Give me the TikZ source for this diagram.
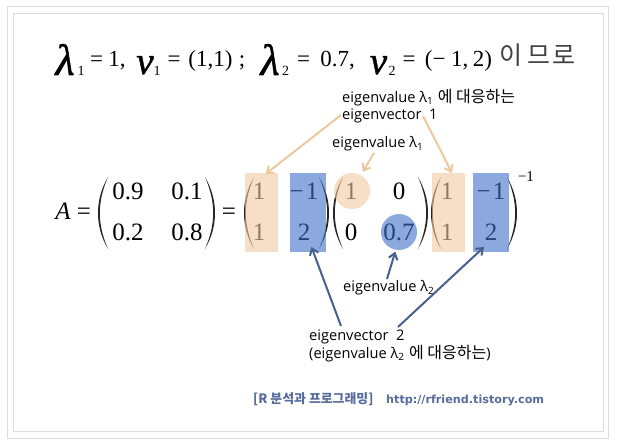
\documentclass[tikz,border=0pt]{standalone}
\usepackage{fontspec}
\setmainfont{Liberation Serif}
\newfontfamily\lblfont{Open Sans}
\newfontfamily\krfont{Noto Sans CJK KR}
\newfontfamily\urlfont{DejaVu Sans}
\newfontfamily\lamfont[ItalicFeatures={FakeBold=1.2}]{Liberation Serif}
\usetikzlibrary{arrows.meta}
\definecolor{peach}{HTML}{F0CAA0}
\definecolor{bluefill}{HTML}{3F70CB}
\definecolor{peachline}{HTML}{EDC9A2}
\definecolor{blueline}{HTML}{46608F}
\definecolor{frameg}{HTML}{DEDEDE}
\definecolor{foot}{HTML}{566C9C}
\newcommand{\lsub}[1]{\raisebox{-2.5pt}{\fontsize{10}{10}\selectfont #1}}
\newcommand{\krlab}[1]{{\krfont\fontsize{16}{16}\selectfont #1}}
\tikzset{
  frameline/.style={draw=frameg,line width=1pt,fill=white},
  mathbig/.style={inner sep=0pt,anchor=base,font=\fontsize{23}{23}\selectfont},
  lamsym/.style={inner sep=0pt,anchor=base,font=\lamfont\itshape\fontsize{44}{44}\selectfont},
  vecsym/.style={inner sep=0pt,anchor=base,font=\lamfont\itshape\fontsize{39}{39}\selectfont},
  mathsub/.style={inner sep=0pt,anchor=base,font=\fontsize{14}{14}\selectfont},
  entry/.style={inner sep=0pt,anchor=base,font=\fontsize{25}{25}\selectfont},
  krtop/.style={inner sep=0pt,anchor=base,text=black!75,font=\krfont\fontsize{25}{25}\selectfont},
  lbl/.style={inner sep=0pt,anchor=base west,font=\lblfont\fontsize{14.6}{14.6}\selectfont},
  footer/.style={inner sep=0pt,anchor=base west,text=foot},
  colbox/.style={inner sep=0pt,outer sep=0pt,minimum height=79pt,fill opacity=.6},
  peachbox/.style={colbox,fill=peach,minimum width=33pt},
  bluebox/.style={colbox,fill=bluefill,minimum width=36pt},
  peachdot/.style={circle,inner sep=0pt,outer sep=0pt,minimum size=36pt,fill=peach,fill opacity=.6},
  bluedot/.style={circle,inner sep=0pt,outer sep=0pt,minimum size=36pt,fill=bluefill,fill opacity=.6},
  peacharrow/.style={draw=peachline,line width=2pt,-{Straight Barb[length=6pt,width=9pt]}},
  bluearrow/.style={draw=blueline,line width=2pt,-{Straight Barb[length=6pt,width=9pt]}},
  lparen/.pic={\fill[black!85] (10,-36) .. controls (3,-24) and (0,-12) .. (0,0) .. controls (0,12) and (3,24) .. (10,36) .. controls (4.8,24) and (1.8,12) .. (1.8,0) .. controls (1.8,-12) and (4.8,-24) .. (10,-36) -- cycle;},
  rparen/.pic={\fill[black!85] (0,-36) .. controls (7,-24) and (10,-12) .. (10,0) .. controls (10,12) and (7,24) .. (0,36) .. controls (5.2,24) and (8.2,12) .. (8.2,0) .. controls (8.2,-12) and (5.2,-24) .. (0,-36) -- cycle;}
}
\begin{document}
\begin{tikzpicture}[x=1pt,y=-1pt]
\useasboundingbox (0,0) rectangle (619,446);
\fill[white] (0,0) rectangle (619,446);
\draw[frameline] (7,7) rectangle (608,438.5);
\draw[frameline] (13.5,13.5) rectangle (603,432);

% top line
\node[lamsym] (l1) at (65,75) {λ};
\node[mathsub] (l1s) at (81,76) {1};
\node[mathbig] (l1e) at (96.5,67) {=};
\node[mathbig] (l1v) at (117,67) {1,};
\node[vecsym] (v1) at (145,74) {v};
\node[mathsub] (v1s) at (157,76) {1};
\node[mathbig] (v1e) at (174,67) {=};
\node[mathbig] (v1v) at (210.5,67) {(1,1)};
\node[mathbig] (v1c) at (242,67) {;};
\node[lamsym] (l2) at (270,75) {λ};
\node[mathsub] (l2s) at (285.5,76) {2};
\node[mathbig] (l2e) at (303.5,67) {=};
\node[mathbig] (l2v) at (337.5,67) {0.7,};
\node[vecsym] (v2) at (378.5,74) {v};
\node[mathsub] (v2s) at (392,76) {2};
\node[mathbig] (v2e) at (409,67) {=};
\node[mathbig] (v2v) at (458.5,67) {(−\kern5.5pt 1,\kern4.5pt 2)};
\node[krtop] (kr) at (537.5,65) {이\kern5pt 므\kern2pt 로};

% matrix entries
\node[entry,font=\fontsize{25}{25}\selectfont\itshape] (A) at (63,219.5) {A};
\node[entry] (eq1) at (84,219.5) {=};
\node[entry] (a11) at (128,200) {0.9};
\node[entry] (a12) at (187,200) {0.1};
\node[entry] (a21) at (128,241) {0.2};
\node[entry] (a22) at (187,241) {0.8};
\node[entry] (eq2) at (229,219.5) {=};
\node[entry] (b11) at (259,200) {1};
\node[entry] (b12) at (304,200) {−\kern2pt 1};
\node[entry] (b21) at (259,241) {1};
\node[entry] (b22) at (304,241) {2};
\node[entry] (c11) at (351,200) {1};
\node[entry] (c12) at (399,200) {0};
\node[entry] (c21) at (351,241) {0};
\node[entry] (c22) at (399,241) {0.7};
\node[entry] (d11) at (447,200) {1};
\node[entry] (d12) at (491,200) {−\kern2pt 1};
\node[entry] (d21) at (447,241) {1};
\node[entry] (d22) at (491,241) {2};
\node[inner sep=0pt,anchor=base,font=\fontsize{15}{15}\selectfont] (exp) at (526,182) {−1};

\pic at (98,213) {lparen};
\pic at (205,213) {rparen};
\pic at (244,213) {lparen};
\pic at (319,213) {rparen};
\pic at (333,213) {lparen};
\pic at (418,213) {rparen};
\pic at (431,213) {lparen};
\pic at (507,213) {rparen};

% overlays
\node[peachbox] (box1) at (261.5,212.5) {};
\node[bluebox] (box2) at (308,212.5) {};
\node[peachbox] (box3) at (448.5,212.5) {};
\node[bluebox] (box4) at (491,212.5) {};
\node[peachdot] (dot1) at (352,191) {};
\node[bluedot] (dot2) at (399,232) {};

% labels
\node[lbl] (t1) at (342,102.5) {eigenvalue λ\lsub{1}\kern5pt\krlab{에 대응하는}};
\node[lbl] (t2) at (342,120) {eigenvector\ \ 1};
\node[lbl] (t3) at (332,148) {eigenvalue λ\lsub{1}};
\node[lbl] (t4) at (343,292) {eigenvalue λ\lsub{2}};
\node[lbl] (t5) at (309,341) {eigenvector\ \ 2};
\node[lbl] (t6) at (309,358.5) {(eigenvalue λ\lsub{2}\kern5pt\krlab{에 대응하는})};
\node[footer,font=\krfont\bfseries\fontsize{12.9}{12.9}\selectfont] (f1) at (253,404) {[R 분석과 프로그래밍]};
\node[footer,font=\urlfont\bfseries\fontsize{11.2}{11.2}\selectfont] (f2) at (386,404) {http://rfriend.tistory.com};

% free ends
\coordinate (s1) at (341,115);
\coordinate (s2) at (423,116);
\coordinate (s3) at (374,153);
\coordinate (s4) at (341,326);
\coordinate (s5) at (387,279);
\coordinate (s6) at (398,327);

% connectors
\draw[peacharrow] (s1) -- ([yshift=-1pt]box1.84);
\draw[peacharrow] (s2) -- (box3.85);
\draw[peacharrow,shorten >=4pt] (s3) -- (dot1.61);
\draw[bluearrow] (s4) -- ([yshift=5pt]box2.-85);
\draw[bluearrow,shorten >=2pt] (s5) -- (dot2.-100);
\draw[bluearrow] (s6) -- ([yshift=5pt]box4.-100);
\end{tikzpicture}
\end{document}
